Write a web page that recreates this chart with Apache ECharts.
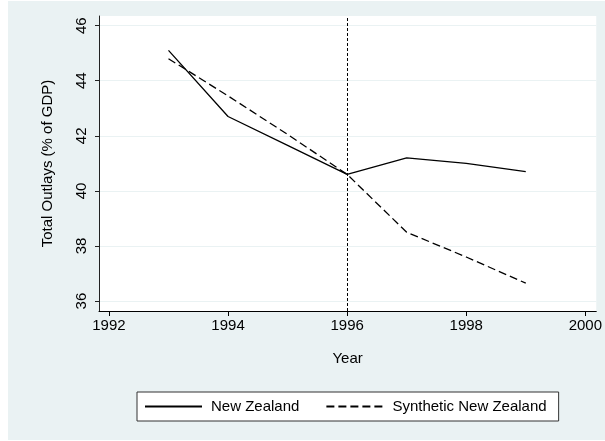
<!DOCTYPE html>
<html>
<head>
<meta charset="utf-8">
<script src="https://cdn.jsdelivr.net/npm/echarts@6/dist/echarts.min.js"></script>
<style>
html,body{margin:0;padding:0;background:#fff;}
#chart{width:605px;height:441px;}
</style>
</head>
<body>
<div id="chart"></div>
<script>
const years = [1993, 1994, 1995, 1996, 1997, 1998, 1999];
const newZealand = [45.1, 42.7, 41.65, 40.6, 41.2, 41.0, 40.7];
const syntheticNZ = [44.8, 43.45, 42.05, 40.6, 38.5, 37.6, 36.65];
const xTicks = [1992, 1994, 1996, 1998, 2000];
const yTicks = [36, 38, 40, 42, 44, 46];
const treatmentYear = 1996;
const seriesNames = ['New Zealand', 'Synthetic New Zealand'];

const FONT = "'Liberation Sans', Arial, Helvetica, sans-serif";
const chart = echarts.init(document.getElementById('chart'), null, {renderer: 'canvas'});
const pairs = (vals) => years.map((y, i) => [y, vals[i]]);

chart.setOption({
  backgroundColor: 'transparent',
  animation: false,
  textStyle: {fontFamily: FONT, color: '#000'},
  graphic: [{
    type: 'rect', z: -10, silent: true,
    shape: {x: 8, y: 1, width: 597, height: 439},
    style: {fill: '#eaf2f3'}
  }],
  grid: {
    left: 99, top: 16, right: 6, bottom: 130,
    show: true, backgroundColor: '#ffffff', borderWidth: 0
  },
  xAxis: {
    type: 'value', min: 1991.833, max: 2000.184,
    name: 'Year', nameLocation: 'middle', nameGap: 40,
    nameTextStyle: {fontFamily: FONT, fontSize: 15, color: '#000'},
    axisLine: {show: true, onZero: false, lineStyle: {color: '#000', width: 1}},
    axisTick: {show: true, length: 5, customValues: xTicks, lineStyle: {color: '#000'}},
    axisLabel: {customValues: xTicks, margin: 7, fontFamily: FONT, fontSize: 15, color: '#000',
      formatter: (v) => String(Math.round(v))},
    splitLine: {show: false}
  },
  yAxis: {
    type: 'value', min: 35.64, max: 46.35,
    name: 'Total Outlays (% of GDP)', nameLocation: 'middle', nameRotate: 90, nameGap: 44,
    nameTextStyle: {fontFamily: FONT, fontSize: 15, color: '#000'},
    axisLine: {show: true, onZero: false, lineStyle: {color: '#222', width: 1}},
    axisTick: {show: true, length: 4, customValues: yTicks, lineStyle: {color: '#222'}},
    axisLabel: {customValues: yTicks, rotate: 90, margin: 10, fontFamily: FONT, fontSize: 15, color: '#000',
      formatter: (v) => String(Math.round(v))},
    splitLine: {show: true, lineStyle: {color: '#eaf2f3', width: 1}}
  },
  legend: {
    left: 137, top: 392,
    data: seriesNames,
    backgroundColor: '#ffffff', borderColor: '#333', borderWidth: 1, borderRadius: 0,
    padding: [7, 12, 7, 7],
    itemWidth: 57, itemHeight: 14, itemGap: 26,
    itemStyle: {opacity: 0},
    textStyle: {fontFamily: FONT, fontSize: 15, color: '#000', padding: [0, 0, 0, 4]}
  },
  series: [
    {
      name: seriesNames[0], type: 'line', data: pairs(newZealand),
      symbol: 'none', showSymbol: false,
      lineStyle: {color: '#000', width: 1.3, type: 'solid'},
      itemStyle: {color: '#000'},
      markLine: {
        silent: true, symbol: 'none', label: {show: false},
        lineStyle: {color: '#000', width: 1, type: [3, 2]},
        data: [{xAxis: treatmentYear}]
      }
    },
    {
      name: seriesNames[1], type: 'line', data: pairs(syntheticNZ),
      symbol: 'none', showSymbol: false,
      lineStyle: {color: '#000', width: 1.3, type: [8, 4]},
      itemStyle: {color: '#000'}
    }
  ]
});
</script>
</body>
</html>
